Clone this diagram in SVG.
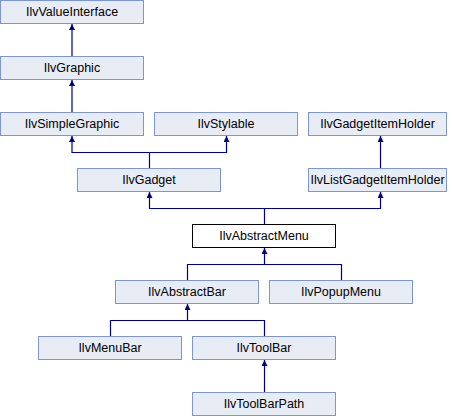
<svg xmlns="http://www.w3.org/2000/svg" width="452" height="416" viewBox="0 0 452 416">
<style>
.n rect{fill:#e8ecf5;stroke:#7f96c9;stroke-width:1}
.n.w rect{fill:#ffffff;stroke:#000000}
.n text{font-family:"Liberation Sans",Arial,sans-serif;font-size:12.5px;fill:#000;text-anchor:middle}
.c path{fill:none;stroke:#000080;stroke-width:1.2;marker-start:url(#ah)}
.c path.p{marker-start:none}
</style>
<defs>
<marker id="ah" viewBox="0 0 10 10" refX="10" refY="5" markerUnits="userSpaceOnUse" markerWidth="7" markerHeight="6" orient="auto-start-reverse">
<path d="M0,0 L10,5 L0,10 z" fill="#000080"/>
</marker>
</defs>
<rect width="452" height="416" fill="#ffffff"/>
<g class="c" id="connectors">
<path d="M72,24 V56"/>
<path d="M72,80 V112"/>
<path d="M72,136 V152.5 H149.5 V168"/>
<path d="M226.5,136 V152.5 H149.5"/>
<path d="M380.5,136 V168"/>
<path d="M149.5,192 V208.5 H264.5 V224"/>
<path d="M380.5,192 V208.5 H264.5"/>
<path d="M264.5,248 V264.5"/>
<path class="p" d="M187.5,280 V264.5 H341.5 V280"/>
<path d="M187.5,304 V320.5"/>
<path class="p" d="M110.5,336 V320.5 H264.5 V336"/>
<path d="M264.5,360 V392"/>
</g>
<g class="n" id="IlvValueInterface"><rect x="0.5" y="0.5" width="143" height="23"/><text x="72" y="16">IlvValueInterface</text></g>
<g class="n" id="IlvGraphic"><rect x="0.5" y="56.5" width="143" height="23"/><text x="72" y="72">IlvGraphic</text></g>
<g class="n" id="IlvSimpleGraphic"><rect x="0.5" y="112.5" width="143" height="23"/><text x="72" y="128">IlvSimpleGraphic</text></g>
<g class="n" id="IlvStylable"><rect x="154.5" y="112.5" width="143" height="23"/><text x="226" y="128">IlvStylable</text></g>
<g class="n" id="IlvGadgetItemHolder"><rect x="308.5" y="112.5" width="138" height="23"/><text x="377.5" y="128">IlvGadgetItemHolder</text></g>
<g class="n" id="IlvGadget"><rect x="77.5" y="168.5" width="143" height="23"/><text x="149" y="184">IlvGadget</text></g>
<g class="n" id="IlvListGadgetItemHolder"><rect x="308.5" y="168.5" width="138" height="23"/><text x="377.5" y="184">IlvListGadgetItemHolder</text></g>
<g class="n w" id="IlvAbstractMenu"><rect x="192.5" y="224.5" width="143" height="23"/><text x="264" y="240">IlvAbstractMenu</text></g>
<g class="n" id="IlvAbstractBar"><rect x="115.5" y="280.5" width="143" height="23"/><text x="187" y="296">IlvAbstractBar</text></g>
<g class="n" id="IlvPopupMenu"><rect x="269.5" y="280.5" width="143" height="23"/><text x="341" y="296">IlvPopupMenu</text></g>
<g class="n" id="IlvMenuBar"><rect x="38.5" y="336.5" width="143" height="23"/><text x="110" y="352">IlvMenuBar</text></g>
<g class="n" id="IlvToolBar"><rect x="192.5" y="336.5" width="143" height="23"/><text x="264" y="352">IlvToolBar</text></g>
<g class="n" id="IlvToolBarPath"><rect x="192.5" y="392.5" width="143" height="23"/><text x="264" y="408">IlvToolBarPath</text></g>
</svg>
